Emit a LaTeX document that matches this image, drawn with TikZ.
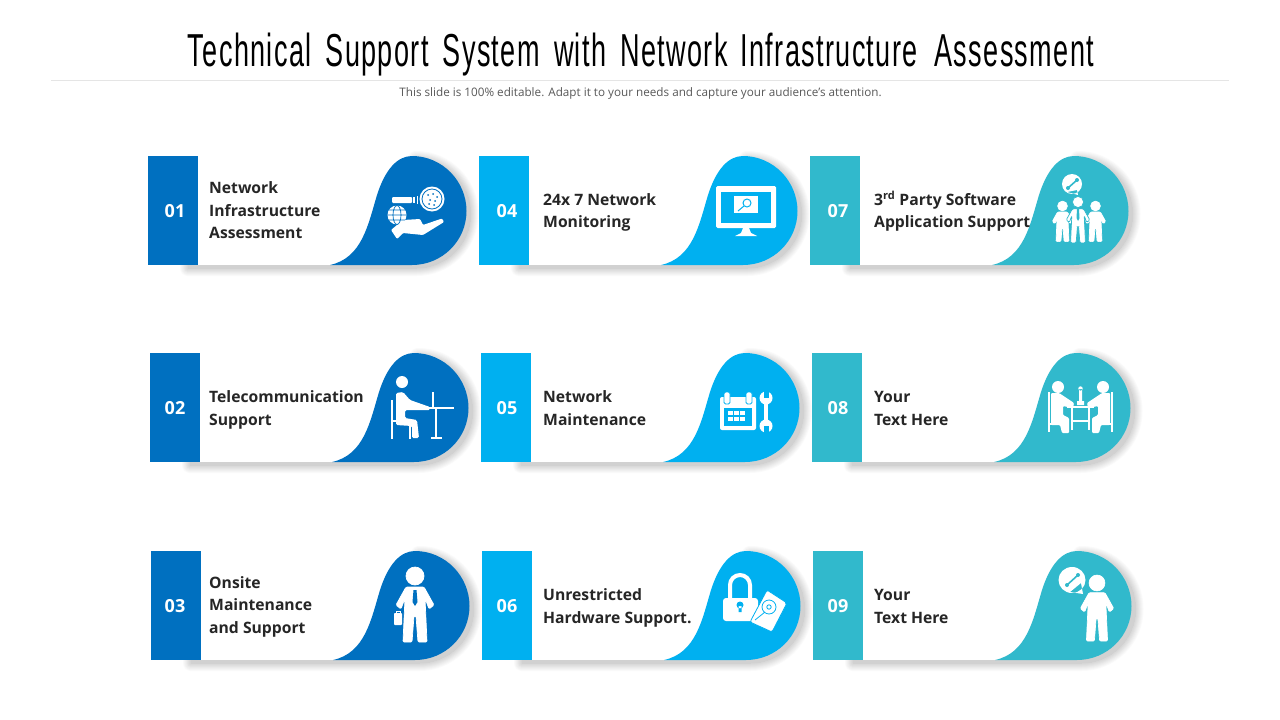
\documentclass[tikz,border=0pt]{standalone}
\usepackage{fontspec}
\setmainfont{Open Sans}
\newfontfamily\titlefont[LetterSpace=5]{Liberation Sans}
\definecolor{bluedark}{HTML}{0070C0}
\definecolor{bluelight}{HTML}{00B0F0}
\definecolor{tealc}{HTML}{31B9CC}
\definecolor{bodytxt}{HTML}{262626}
\tikzset{
  numlabel/.style={text=white,font=\fontsize{18}{20}\selectfont\bfseries,inner sep=0pt,anchor=center},
  cardlabel/.style={text=bodytxt,font=\fontsize{15.7}{22.5}\selectfont\bfseries,inner sep=0pt,anchor=base west,align=left},
  wline/.style={draw=white,line cap=butt},
}
% blob path, relative to card's top-left
\def\blobpath{(182,109) .. controls (214,102) and (220,69) .. (229,39) .. controls (237,14) and (249,0) .. (264,0) .. controls (294,0) and (318.5,25) .. (318.5,55) .. controls (318.5,85) and (294,109) .. (264,109) -- cycle}
% #1 id, #2 x, #3 y, #4 colour, #5 number x, #6 text x, #7 last baseline, #8 text
\newcommand{\card}[8]{
  \begin{scope}[shift={(#2,#3)}]
    \begin{scope}[shift={(4,3)}]
      \foreach \w/\p in {16/2,14/4,12/6,10/8,8/10,6/12,4/14,2/16,0/18}{
        \filldraw[draw=black!\p,fill=black!\p,line width=\w pt,line join=round]
          (36,109) -- (36,60) -- (250,60) -- (264,0) .. controls (294,0) and (318.5,25) .. (318.5,55) .. controls (318.5,85) and (294,109) .. (264,109) -- cycle;
      }
    \end{scope}
    \fill[white] (49.5,0) rectangle (230,109);
    \fill[#4] \blobpath;
    \fill[#4] (0,0) rectangle (49.7,109);
  \end{scope}
  \node[numlabel] (n#1) at (#5,#3+54.7) {#1};
  \node[cardlabel] (t#1) at (#6,#7) {#8};
}
% standing person: #1 x of head, #2 y of head, #3 scale, #4 outline colour
\newcommand{\person}[4]{
  \begin{scope}[shift={(#1,#2)},scale=#3]
    \filldraw[fill=white,draw=#4,line width=.7pt] (0,0) circle (9);
    \filldraw[fill=white,draw=#4,line width=.7pt,rounded corners=1.2pt]
      (-9,11) -- (-19,29) -- (-14,33) -- (-10,22) -- (-12,66) -- (-3,66) -- (-1,40) -- (1,40) -- (3,66) -- (12,66) -- (10,22) -- (14,33) -- (19,29) -- (9,11) -- cycle;
  \end{scope}
}
% small wrench: #1,#2 start, #3,#4 end, #5 colour
\newcommand{\wrenchline}[5]{
  \draw[#5,line width=1.6pt] (#1,#2) -- (#3,#4);
  \fill[#5] (#1,#2) circle (2);
  \fill[#5] (#3,#4) circle (2);
}
\begin{document}
\begin{tikzpicture}[x=1pt,y=-1pt]
\useasboundingbox (0,0) rectangle (1280,720);
\fill[white] (0,0) rectangle (1280,720);

% header
\node[inner sep=0pt,anchor=base] (title) at (641,66) {\resizebox{906pt}{33.5pt}{\titlefont Technical\hspace{.2em} Support\hspace{.2em} System\hspace{.2em} with\hspace{.2em} Network\hspace{.15em} Infrastructure\hspace{.3em} Assessment}};
\draw[draw=black!10,line width=.7pt] (51,80.5) -- (1229,80.5);
\node[inner sep=0pt,text=black!65,font=\fontsize{11.7}{13}\selectfont] (sub) at (640.5,93) {This slide is 100\% editable. Adapt it to your needs and capture your audience's attention.};

% cards
\card{01}{148}{156}{bluedark}{175}{209}{238.5}{Network\\Infrastructure\\Assessment}
\card{02}{150}{353}{bluedark}{175}{209}{425}{Telecommunication\\Support}
\card{03}{151}{551}{bluedark}{175}{209}{633}{Onsite\\Maintenance\\and Support}
\card{04}{479}{156}{bluelight}{507}{543}{227.5}{24x 7 Network\\Monitoring}
\card{05}{481}{353}{bluelight}{507}{543}{425}{Network\\Maintenance}
\card{06}{482}{551}{bluelight}{507}{543}{623}{Unrestricted\\Hardware Support.}
\card{07}{810}{156}{tealc}{838}{874}{227.5}{3\textsuperscript{rd} Party Software\\Application Support}
\card{08}{812}{353}{tealc}{838}{874}{425}{Your\\Text Here}
\card{09}{813}{551}{tealc}{838}{874}{623}{Your\\Text Here}

% icon 01: hand, globe, probe
\fill[white,rounded corners=1pt] (391,230) -- (403,220) -- (420,219) -- (423,225) -- (442,218.5) -- (444,222) -- (423,235) -- (403,233) -- (397,239) -- cycle;
\fill[white] (432,199) circle (12.5);
\draw[bluedark,line width=.8pt] (432,199) circle (10);
\foreach \a/\b in {428/195,433/194,437/197,430/200,435/201,429/204,434/205}{\fill[bluedark] (\a,\b) circle (1);}
\fill[white,rounded corners=1pt] (392,197) rectangle (412,203);
\fill[white] (413,197) rectangle (415,203);
\fill[white] (416.5,196) rectangle (418,204);
\fill[white] (397,215) circle (9.5);
\draw[bluedark,line width=.7pt] (397,215) ellipse (4 and 9.5) (387.5,215) -- (406.5,215) (389,210) -- (405,210) (389,220) -- (405,220);

% icon 02: person at desk
\fill[white] (402,382) circle (6);
\fill[white,rounded corners=1.5pt] (396,393) -- (403,392) -- (410,400) -- (430,407) -- (430,410) -- (405,410) -- (405,418) -- (417,420) -- (419,438) -- (412,438) -- (412,426) -- (396,425) -- cycle;
\draw[wline,line width=1.5pt] (392,400) -- (392,439) (392,421) -- (410,421) -- (410,439);
\draw[wline,line width=1.3pt] (417,408) -- (454,408) (433,392) -- (433,408) (436,408) -- (436,438);
\draw[wline,line width=1.5pt] (431,438) -- (442,438);

% icon 03: businessman
\person{415}{576}{1}{white}
\fill[bluedark] (413.5,590) -- (416.5,590) -- (417.5,602) -- (415,606) -- (412.5,602) -- cycle;
\fill[white,rounded corners=.8pt] (394,613) rectangle (402,625);
\draw[white,line width=.8pt] (396,613) -- (396,611) -- (400,611) -- (400,613);

% icon 04: monitor
\fill[white,rounded corners=1.5pt] (716,186) rectangle (776,228);
\fill[bluelight] (721,192) rectangle (771,223);
\fill[white] (734,196) rectangle (758,213);
\draw[bluelight,line width=1pt] (747,203) circle (4) (744,206) -- (738,211);
\fill[white] (743,228) -- (749,228) -- (751,233) -- (757,236) -- (735,236) -- (741,233) -- cycle;

% icon 05: calendar and wrench
\fill[white,rounded corners=2pt] (720,397) rectangle (756,430);
\fill[bluelight] (724,408) rectangle (752,426);
\foreach \a in {730,736,742}{\foreach \b in {411,417}{\fill[white] (\a-2.2,\b) rectangle (\a+2.8,\b+4);}}
\foreach \a in {727,749}{
  \filldraw[fill=white,draw=bluelight,line width=.8pt,rounded corners=1.5pt] (\a-3,392) rectangle (\a+3,404);
}
\draw[white,line width=4.5pt] (766,402) -- (766,424);
\fill[white] (766,398) circle (6.5) (766,426) circle (6.5);
\fill[bluelight] (763.5,390) rectangle (768.5,398);
\fill[bluelight] (763.5,426) rectangle (768.5,434);

% icon 06: lock and disk
\draw[white,line width=4pt] (730,600) -- (730,585) arc[start angle=180,end angle=360,radius=10] -- (750,600);
\fill[white,rounded corners=3pt] (723,598) rectangle (758,621);
\fill[bluelight] (740,605) circle (3.5) (738.5,606) rectangle (741.5,612);
\filldraw[fill=white,draw=bluelight,line width=.8pt,rounded corners=2pt] (767,590) -- (787,603) -- (772,632) -- (750,622) -- cycle;
\draw[bluelight,line width=.8pt] (769,607) circle (7) (769,607) circle (2.2) (755,620) -- (765,612);

% icon 07: three people with speech bubble
\person{1062.5}{206}{.54}{white}
\person{1095.5}{206}{.54}{white}
\person{1078}{202}{.62}{tealc}
\fill[tealc] (1077,209) -- (1079,209) -- (1079.5,218) -- (1078,221) -- (1076.5,218) -- cycle;
\fill[white] (1072,184) circle (10) (1067,192) -- (1078,195) -- (1077,190) -- cycle;
\wrenchline{1068}{188}{1077}{180}{tealc}

% icon 08: two people at table
\foreach \m/\c in {1/0,-1/2161}{
  \begin{scope}[shift={(\c,0)},xscale=\m]
    \fill[white] (1058,387) circle (6);
    \fill[white,rounded corners=1pt] (1051,393) -- (1059,393) -- (1074,403) -- (1073,408) -- (1063,406) -- (1063,415) -- (1069,418) -- (1069,433) -- (1062,433) -- (1060,425) -- (1051,425) -- cycle;
    \draw[wline,line width=1.6pt] (1049,392) -- (1049,432) (1049,424) -- (1063,424) -- (1063,432);
  \end{scope}
}
\draw[wline,line width=2pt] (1067,407) -- (1094,407);
\draw[wline,line width=1.8pt] (1072,407) -- (1072,430) (1089,407) -- (1089,430) (1072,421) -- (1089,421);
\fill[white] (1080.5,388.5) circle (2.2) (1079,389) rectangle (1082,401) (1077,401) rectangle (1084,405);

% icon 09: person with speech bubble
\person{1097}{583}{.88}{white}
\fill[white] (1072,580) ellipse (13.5 and 13) (1070,592) -- (1083,594) -- (1081,583) -- cycle;
\wrenchline{1067}{585}{1078}{575}{tealc}
\end{tikzpicture}
\end{document}
